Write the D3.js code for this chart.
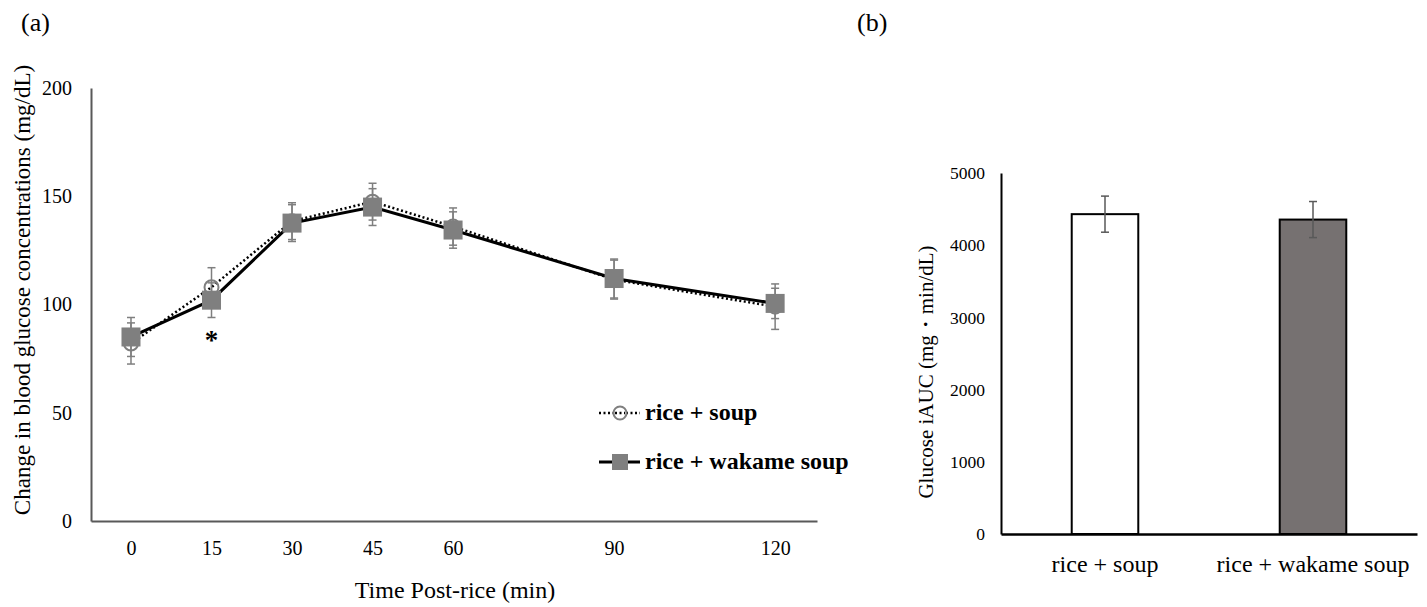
<!DOCTYPE html>
<html>
<head>
<meta charset="utf-8">
<script src="https://cdn.jsdelivr.net/npm/d3@7"></script>
<style>
  body { margin: 0; background: #fff; }
  svg { display: block; font-family: "Liberation Serif", "Times New Roman", serif; }
</style>
</head>
<body>
<script>
// (a) blood glucose change over time
var times = [0, 15, 30, 45, 60, 90, 120];
var soupMean = [82, 108, 138.5, 147.5, 136, 111.5, 99];
var soupErr = [9.5, 9, 8.5, 8.5, 8.6, 9, 10.5];
var wakameMean = [85, 102, 137.6, 145, 134.4, 112, 100.5];
var wakameErr = [9, 8, 8.5, 8.5, 8.4, 9, 7];
var yTicksA = [0, 50, 100, 150, 200];

// (b) iAUC
var groups = ['rice + soup', 'rice + wakame soup'];
var aucMean = [4430, 4355];
var aucErr = [250, 250];
var yTicksB = [0, 1000, 2000, 3000, 4000, 5000];

var W = 1427, H = 607;
var markerGray = '#7f7f7f';

var svg = d3.select('body').append('svg')
	.attr('width', W)
	.attr('height', H);

function appendText(target, txt, x, y, size){
	return target.append('text')
		.attr('x', x)
		.attr('y', y)
		.attr('font-size', size)
		.attr('fill', '#000')
		.text(txt);
}

function styleAxis(g, color, fontSize){
	g.select('.domain').attr('stroke', color).attr('stroke-width', 2);
	g.selectAll('text')
		.attr('font-family', '"Liberation Serif", "Times New Roman", serif')
		.attr('font-size', fontSize)
		.attr('fill', '#000');
}

// ---------- panel (a) ----------
var x = d3.scaleLinear().domain([-7.45, 127.8]).range([91, 817]);
var y = d3.scaleLinear().domain([0, 200]).range([521, 88]);

var gA = svg.append('g').attr('id', 'panel-a');

var yAxisA = gA.append('g')
	.attr('transform', 'translate(91,0)')
	.call(d3.axisLeft(y).tickValues(yTicksA).tickSize(0).tickPadding(19));
styleAxis(yAxisA, '#595959', 20);

var xAxisA = gA.append('g')
	.attr('transform', 'translate(0,521)')
	.call(d3.axisBottom(x).tickValues(times).tickSize(0).tickPadding(20).tickSizeOuter(0));
styleAxis(xAxisA, '#595959', 20);

appendText(gA, 'Time Post-rice (min)', 455, 598, 24).attr('text-anchor', 'middle');
appendText(gA, 'Change in blood glucose concentrations (mg/dL)', 0, 0, 23)
	.attr('text-anchor', 'middle')
	.attr('transform', 'translate(30,290) rotate(-90)');
appendText(gA, '(a)', 21, 31, 26);

var line = d3.line()
	.x(function(d){ return x(d[0]); })
	.y(function(d){ return y(d[1]); });

function drawErrors(g, means, errs){
	var eb = g.append('g').attr('stroke', markerGray).attr('stroke-width', 1.5);
	times.forEach(function(t, i){
		var cx = x(t), lo = y(means[i] - errs[i]), hi = y(means[i] + errs[i]);
		eb.append('line').attr('x1', cx).attr('x2', cx).attr('y1', lo).attr('y2', hi);
		eb.append('line').attr('x1', cx - 4).attr('x2', cx + 4).attr('y1', lo).attr('y2', lo);
		eb.append('line').attr('x1', cx - 4).attr('x2', cx + 4).attr('y1', hi).attr('y2', hi);
	});
}

// rice + soup : dotted line, open circles
var soupPts = d3.zip(times, soupMean);
var sG = gA.append('g');
drawErrors(sG, soupMean, soupErr);
sG.append('path')
	.datum(soupPts)
	.attr('d', line)
	.attr('fill', 'none')
	.attr('stroke', '#000')
	.attr('stroke-width', 2.5)
	.attr('stroke-dasharray', '2,2.5');
sG.selectAll('circle')
	.data(soupPts)
	.enter().append('circle')
	.attr('cx', function(d){ return x(d[0]); })
	.attr('cy', function(d){ return y(d[1]); })
	.attr('r', 7)
	.attr('fill', 'none')
	.attr('stroke', markerGray)
	.attr('stroke-width', 2);

// rice + wakame soup : solid line, filled squares
var wakPts = d3.zip(times, wakameMean);
var wG = gA.append('g');
drawErrors(wG, wakameMean, wakameErr);
wG.append('path')
	.datum(wakPts)
	.attr('d', line)
	.attr('fill', 'none')
	.attr('stroke', '#000')
	.attr('stroke-width', 3);
wG.selectAll('rect')
	.data(wakPts)
	.enter().append('rect')
	.attr('x', function(d){ return x(d[0]) - 9.5; })
	.attr('y', function(d){ return y(d[1]) - 9.5; })
	.attr('width', 19)
	.attr('height', 19)
	.attr('fill', markerGray);

// significance mark at 15 min
appendText(gA, '*', x(15), 349, 27)
	.attr('text-anchor', 'middle')
	.attr('font-weight', 'bold');

// legend
var leg = gA.append('g');
leg.append('line').attr('x1', 599).attr('x2', 640).attr('y1', 413).attr('y2', 413)
	.attr('stroke', '#000').attr('stroke-width', 2.5).attr('stroke-dasharray', '2,2.5');
leg.append('circle').attr('cx', 620).attr('cy', 413).attr('r', 6.5)
	.attr('fill', '#fff').attr('stroke', markerGray).attr('stroke-width', 2);
leg.append('line').attr('x1', 620 - 5).attr('x2', 620 + 5).attr('y1', 413).attr('y2', 413)
	.attr('stroke', '#000').attr('stroke-width', 2.5).attr('stroke-dasharray', '2,2.5');
appendText(leg, 'rice + soup', 645, 420, 24).attr('font-weight', 'bold');

leg.append('line').attr('x1', 599).attr('x2', 640).attr('y1', 462).attr('y2', 462)
	.attr('stroke', '#000').attr('stroke-width', 3);
leg.append('rect').attr('x', 612).attr('y', 454).attr('width', 16).attr('height', 16)
	.attr('fill', markerGray);
appendText(leg, 'rice + wakame soup', 645, 469, 24).attr('font-weight', 'bold');

// ---------- panel (b) ----------
var xb = d3.scaleBand().domain(groups).range([1001, 1417]).paddingInner(0.68).paddingOuter(0.34);
var yb = d3.scaleLinear().domain([0, 5000]).range([534, 173]);

var gB = svg.append('g').attr('id', 'panel-b');

var yAxisB = gB.append('g')
	.attr('transform', 'translate(1001,0)')
	.call(d3.axisLeft(yb).tickValues(yTicksB).tickFormat(d3.format('d')).tickSize(0).tickPadding(16));
styleAxis(yAxisB, '#000', 17.5);

gB.selectAll('rect.bar')
	.data(groups)
	.enter().append('rect')
	.attr('class', 'bar')
	.attr('x', function(d){ return xb(d); })
	.attr('y', function(d, i){ return yb(aucMean[i]); })
	.attr('width', xb.bandwidth())
	.attr('height', function(d, i){ return yb(0) - yb(aucMean[i]); })
	.attr('fill', function(d, i){ return i === 0 ? '#fff' : '#767171'; })
	.attr('stroke', '#000')
	.attr('stroke-width', 2);

var ebB = gB.append('g').attr('stroke', '#595959').attr('stroke-width', 1.5);
groups.forEach(function(g, i){
	var cx = xb(g) + xb.bandwidth() / 2;
	var lo = yb(aucMean[i] - aucErr[i]), hi = yb(aucMean[i] + aucErr[i]);
	ebB.append('line').attr('x1', cx).attr('x2', cx).attr('y1', lo).attr('y2', hi);
	ebB.append('line').attr('x1', cx - 4).attr('x2', cx + 4).attr('y1', lo).attr('y2', lo);
	ebB.append('line').attr('x1', cx - 4).attr('x2', cx + 4).attr('y1', hi).attr('y2', hi);
});

var xAxisB = gB.append('g')
	.attr('transform', 'translate(0,534)')
	.call(d3.axisBottom(xb).tickSize(0).tickPadding(21).tickSizeOuter(0));
styleAxis(xAxisB, '#000', 24);
xAxisB.select('.domain').attr('stroke-width', 2.5);

appendText(gB, 'Glucose iAUC (mg\u30FBmin/dL)', 0, 0, 21)
	.attr('text-anchor', 'middle')
	.attr('transform', 'translate(933,372) rotate(-90)');
appendText(gB, '(b)', 857, 31, 26);
</script>
</body>
</html>
